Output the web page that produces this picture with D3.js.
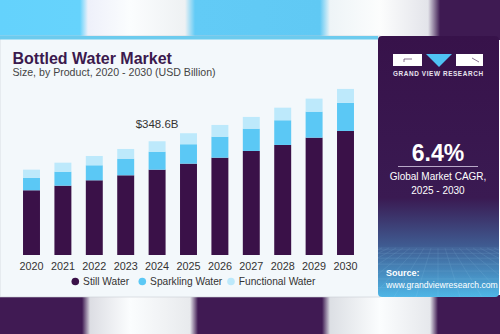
<!DOCTYPE html>
<html>
<head>
<meta charset="utf-8">
<script src="https://cdn.jsdelivr.net/npm/d3@7"></script>
<style>
  body { margin: 0; background: #fff; }
  svg { display: block; font-family: "Liberation Sans", Arial, sans-serif; }
</style>
</head>
<body>
<div id="chart"></div>
<script>
const years = ["2020", "2021", "2022", "2023", "2024", "2025", "2026", "2027", "2028", "2029", "2030"];
const stillWater = [198.4, 212.5, 229.0, 244.3, 261.5, 280.0, 298.3, 318.9, 337.3, 359.7, 380.2];
const sparklingWater = [37.7, 42.9, 46.0, 51.0, 55.2, 59.5, 64.4, 68.4, 75.7, 79.7, 85.9];
const functionalWater = [25.5, 27.6, 28.5, 29.7, 31.9, 33.7, 35.9, 35.9, 38.6, 39.9, 42.9];
const seriesNames = ["Still Water", "Sparkling Water", "Functional Water"];
const seriesColors = ["#3a1148", "#5bc8f5", "#bde9fb"];
const labelYear = "2024";
const labelText = "$348.6B";

const W = 500, H = 334;
const svg = d3.select("#chart").append("svg")
    .attr("width", W).attr("height", H);
const defs = svg.append("defs");

// blurred backdrop stripes above and below the card
function stripeGrad(id, stops) {
    const g = defs.append("linearGradient").attr("id", id)
        .attr("x1", 0).attr("x2", 1).attr("y1", 0).attr("y2", 0);
    stops.forEach(s => g.append("stop").attr("offset", s[0] / W).attr("stop-color", s[1]));
}
stripeGrad("topBand", [
    [0, "#64d2fc"], [80, "#66d3fc"], [88, "#eef0fa"], [130, "#fbfdfe"], [185, "#eef1f3"], [195, "#62cbf6"],
    [320, "#60c9f4"], [330, "#eef4f7"], [380, "#fcfdfd"], [428, "#e3e4ea"], [440, "#3e1a52"], [500, "#3e1a52"]
]);
stripeGrad("botBand", [
    [0, "#401a53"], [82, "#401a53"], [90, "#dcdde3"], [130, "#fbfdfe"], [190, "#e8eaed"], [198, "#401a53"],
    [322, "#401a53"], [330, "#dcdfe4"], [380, "#fbfdfe"], [430, "#e6e8ec"], [438, "#401a53"], [500, "#401a53"]
]);
svg.append("rect").attr("width", W).attr("height", 40).attr("fill", "url(#topBand)");
svg.append("rect").attr("y", 295).attr("width", W).attr("height", 39).attr("fill", "url(#botBand)");

// card
svg.append("rect").attr("x", 0).attr("y", 36).attr("width", 380).attr("height", 261)
    .attr("fill", "#f3f8fb").attr("stroke", "#c9ced3").attr("stroke-width", 0.6);
svg.append("rect").attr("x", 0).attr("y", 36).attr("width", 378).attr("height", 3.5).attr("fill", "#6ccbee");

// side panel
const pg = defs.append("linearGradient").attr("id", "panelGrad")
    .attr("x1", 0).attr("x2", 0).attr("y1", 0).attr("y2", 1);
pg.append("stop").attr("offset", 0).attr("stop-color", "#37124a");
pg.append("stop").attr("offset", 0.62).attr("stop-color", "#3a1a52");
pg.append("stop").attr("offset", 0.8).attr("stop-color", "#3f5a90");
pg.append("stop").attr("offset", 1).attr("stop-color", "#4fb6e6");
defs.append("clipPath").attr("id", "panelClip").append("rect")
    .attr("x", 378).attr("y", 36).attr("width", 121).attr("height", 261).attr("rx", 4);
const panel = svg.append("g").attr("clip-path", "url(#panelClip)");
panel.append("rect").attr("x", 378).attr("y", 36).attr("width", 121).attr("height", 261)
    .attr("fill", "url(#panelGrad)");

// perspective grid at bottom of the panel
const grid = panel.append("g").attr("stroke", "#9fd6f2").attr("stroke-width", 0.4).attr("opacity", 0.3);
d3.range(0, 9).forEach(i => {
    const yy = 248 + Math.pow(i / 8, 1.6) * 49;
    grid.append("line").attr("x1", 378).attr("x2", 499).attr("y1", yy).attr("y2", yy);
});
d3.range(-10, 11).forEach(i => {
    grid.append("line").attr("x1", 438 + i * 7).attr("y1", 248).attr("x2", 438 + i * 22).attr("y2", 297);
});

// logo
const logo = svg.append("g");
logo.append("rect").attr("x", 393).attr("y", 54).attr("width", 29).attr("height", 12).attr("fill", "#fff");
logo.append("path").attr("d", "M426,54 L452,54 L439,67 Z").attr("fill", "#4fc3f4");
logo.append("rect").attr("x", 456).attr("y", 54).attr("width", 27).attr("height", 12).attr("fill", "#fff");
logo.append("path").attr("d", "M404,62 L404,59 L412,59 M472,58 L479,62")
    .attr("stroke", "#3a1448").attr("stroke-width", 0.6).attr("fill", "none");
svg.append("text").attr("x", 393).attr("y", 75.5)
    .attr("fill", "#e8e4ef").attr("font-size", 6.4).attr("font-weight", "bold")
    .attr("textLength", 90).attr("lengthAdjust", "spacing").text("GRAND VIEW RESEARCH");

// CAGR block
svg.append("text").attr("x", 438).attr("y", 161).attr("text-anchor", "middle")
    .attr("fill", "#fff").attr("font-size", 23).attr("font-weight", "bold").text("6.4%");
svg.append("line").attr("x1", 398).attr("x2", 478).attr("y1", 166.5).attr("y2", 166.5)
    .attr("stroke", "#b9a9c9").attr("stroke-width", 1.2);
svg.append("text").attr("x", 438).attr("y", 180).attr("text-anchor", "middle")
    .attr("fill", "#fff").attr("font-size", 10).text("Global Market CAGR,");
svg.append("text").attr("x", 438).attr("y", 194).attr("text-anchor", "middle")
    .attr("fill", "#fff").attr("font-size", 10).text("2025 - 2030");

svg.append("text").attr("x", 386).attr("y", 276).attr("fill", "#fff")
    .attr("font-size", 9).attr("font-weight", "bold").text("Source:");
svg.append("text").attr("x", 386).attr("y", 288).attr("fill", "#fff")
    .attr("font-size", 8.6).text("www.grandviewresearch.com");

// titles
svg.append("text").attr("x", 12.5).attr("y", 63.5).attr("fill", "#3b1a4e")
    .attr("font-size", 16).attr("font-weight", "bold").text("Bottled Water Market");
svg.append("text").attr("x", 12.5).attr("y", 76).attr("fill", "#444")
    .attr("font-size", 10.6).text("Size, by Product, 2020 - 2030 (USD Billion)");

// stacked bars
const table = years.map((y, i) => ({
    year: y, still: stillWater[i], sparkling: sparklingWater[i], functional: functionalWater[i]
}));
const keys = ["still", "sparkling", "functional"];
const stacked = d3.stack().keys(keys)(table);

const x = d3.scaleBand().domain(years).range([15.8, 361.2])
    .paddingInner(0.46).paddingOuter(0.23);
const y = d3.scaleLinear().domain([0, 400]).range([255, 124.5]);

svg.append("g").selectAll("g")
    .data(stacked)
    .join("g")
    .attr("fill", (d, i) => seriesColors[i])
    .selectAll("rect")
    .data(d => d)
    .join("rect")
    .attr("x", d => x(d.data.year))
    .attr("y", d => y(d[1]))
    .attr("width", x.bandwidth())
    .attr("height", d => y(d[0]) - y(d[1]));

// value label
const top2024 = table.find(d => d.year === labelYear);
svg.append("text")
    .attr("x", x(labelYear) + x.bandwidth() / 2)
    .attr("y", y(top2024.still + top2024.sparkling + top2024.functional) - 13)
    .attr("text-anchor", "middle").attr("fill", "#333").attr("font-size", 11.5)
    .text(labelText);

// x axis
const xAxis = svg.append("g").attr("transform", "translate(0,255)")
    .call(d3.axisBottom(x).tickSize(0).tickPadding(7));
xAxis.select(".domain").remove();
xAxis.selectAll("text").attr("fill", "#333").attr("font-size", 10.8)
    .attr("font-family", "Liberation Sans, Arial, sans-serif");

// legend
const legendX = [75.3, 142.3, 231];
const legend = svg.append("g").selectAll("g").data(seriesNames).join("g")
    .attr("transform", (d, i) => `translate(${legendX[i]},281.5)`);
legend.append("circle").attr("r", 3.8).attr("fill", (d, i) => seriesColors[i]);
legend.append("text").attr("x", 7.8).attr("y", 3.6).attr("fill", "#333")
    .attr("font-size", 10.2).text(d => d);
</script>
</body>
</html>
